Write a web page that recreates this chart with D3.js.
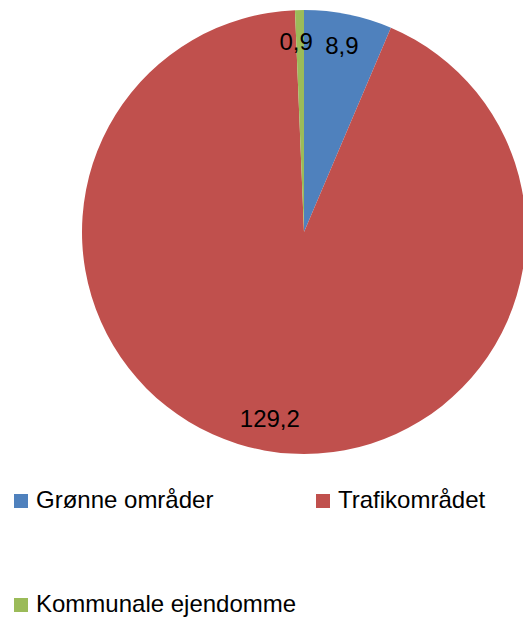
<!DOCTYPE html>
<html>
<head>
<meta charset="utf-8">
<script src="https://cdn.jsdelivr.net/npm/d3@7"></script>
<style>
  body { margin: 0; background: #fff; }
  svg { display: block; }
</style>
</head>
<body>
<div id="chart"></div>
<script>
// data
const categories = ["Grønne områder", "Trafikområdet", "Kommunale ejendomme"];
const values = [8.9, 129.2, 0.9];
const labels = ["8,9", "129,2", "0,9"];
const colors = ["#4F81BD", "#C0504D", "#9BBB59"];

const width = 523, height = 617;
const cx = 304, cy = 232, radius = 222;

const svg = d3.select("#chart").append("svg")
  .attr("width", width)
  .attr("height", height)
  .style("font-family", "'Liberation Sans', Arial, sans-serif");

const pie = d3.pie().sort(null).value(d => d);
const arcs = pie(values);

const arc = d3.arc().innerRadius(0).outerRadius(radius);
const labelArc = d3.arc().innerRadius(190).outerRadius(190);

const g = svg.append("g").attr("transform", "translate(" + cx + "," + cy + ")");

// slices
g.selectAll("path")
  .data(arcs)
  .enter()
  .append("path")
  .attr("d", arc)
  .attr("fill", (d, i) => colors[i]);

// data labels
g.selectAll("text.lbl")
  .data(arcs)
  .enter()
  .append("text")
  .attr("class", "lbl")
  .attr("transform", (d, i) => {
    const c = labelArc.centroid(d);
    // the tiny slice label is pushed a little to the left like in the original
    if (i === 2) c[0] -= 4;
    return "translate(" + c[0] + "," + c[1] + ")";
  })
  .attr("text-anchor", "middle")
  .attr("dy", "0.35em")
  .style("font-size", "24px")
  .style("fill", "#000")
  .text((d, i) => labels[i]);

// legend
const legendPos = [[14, 494], [316, 494], [14, 598]];
const legend = svg.selectAll("g.legend")
  .data(categories)
  .enter()
  .append("g")
  .attr("class", "legend")
  .attr("transform", (d, i) => "translate(" + legendPos[i][0] + "," + legendPos[i][1] + ")");

legend.append("rect")
  .attr("width", 14)
  .attr("height", 14)
  .attr("fill", (d, i) => colors[i]);

legend.append("text")
  .attr("x", 22)
  .attr("y", 14)
  .style("font-size", "24px")
  .style("fill", "#000")
  .text(d => d);
</script>
</body>
</html>
